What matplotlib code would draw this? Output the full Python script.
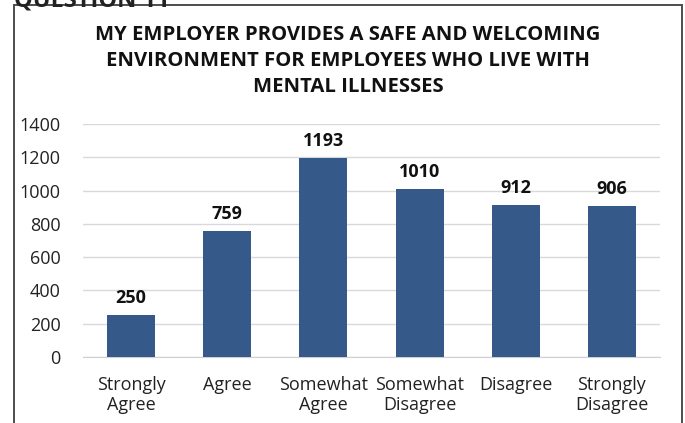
import matplotlib
matplotlib.use("Agg")
import matplotlib.pyplot as plt
from matplotlib.patches import Rectangle

categories = ["Strongly\nAgree", "Agree", "Somewhat\nAgree", "Somewhat\nDisagree",
              "Disagree", "Strongly\nDisagree"]
responses = [250, 759, 1193, 1010, 912, 906]
y_ticks = [0, 200, 400, 600, 800, 1000, 1200, 1400]
title = "MY EMPLOYER PROVIDES A SAFE AND WELCOMING\nENVIRONMENT FOR EMPLOYEES WHO LIVE WITH\nMENTAL ILLNESSES"

plt.rcParams['font.family'] = ['Open Sans', 'DejaVu Sans']

W, H = 685, 423
fig = plt.figure(figsize=(W / 100, H / 100), dpi=100)
fig.patch.set_facecolor("white")

# frame around the chart (runs off the bottom edge)
fig.add_artist(Rectangle((14 / W, -0.05), (682 - 14) / W, 1.05 - 5 / H,
                         transform=fig.transFigure, fill=False,
                         edgecolor="#4d4d4d", linewidth=1.4))
fig.text(14 / W, 1 - 0 / H, "QUESTION 11", fontsize=17, fontweight="bold",
         ha="left", va="center", color="#222222")

ax = fig.add_axes([83 / W, 1 - 357 / H, (660 - 83) / W, (357 - 124) / H])
x = range(len(categories))
ax.bar(x, responses, width=0.5, color="#355a8a", zorder=3)
for xi, v in zip(x, responses):
    ax.text(xi, v + 48, str(v), ha="center", va="bottom", fontsize=13,
            fontweight="bold", color="#111111")

ax.set_xlim(-0.5, len(categories) - 0.5)
ax.set_ylim(0, 1400)
ax.set_yticks(y_ticks)
ax.set_yticklabels([str(t) for t in y_ticks], fontsize=13, color="#222222")
ax.set_xticks(list(x))
ax.set_xticklabels(categories, fontsize=13, color="#222222", linespacing=1.1)
ax.tick_params(axis="both", length=0)
ax.tick_params(axis="y", pad=16)
ax.tick_params(axis="x", pad=14)
ax.grid(axis="y", color="#d9d9d9", linewidth=1, zorder=0)
for s in ["top", "right", "left"]:
    ax.spines[s].set_visible(False)
ax.spines["bottom"].set_color("#d0d0d0")

fig.text(348 / W, 1 - 61 / H, title, ha="center", va="center", fontsize=14.6,
         fontweight="bold", color="#111111", linespacing=1.42)

fig.savefig("out.png", dpi=100)
